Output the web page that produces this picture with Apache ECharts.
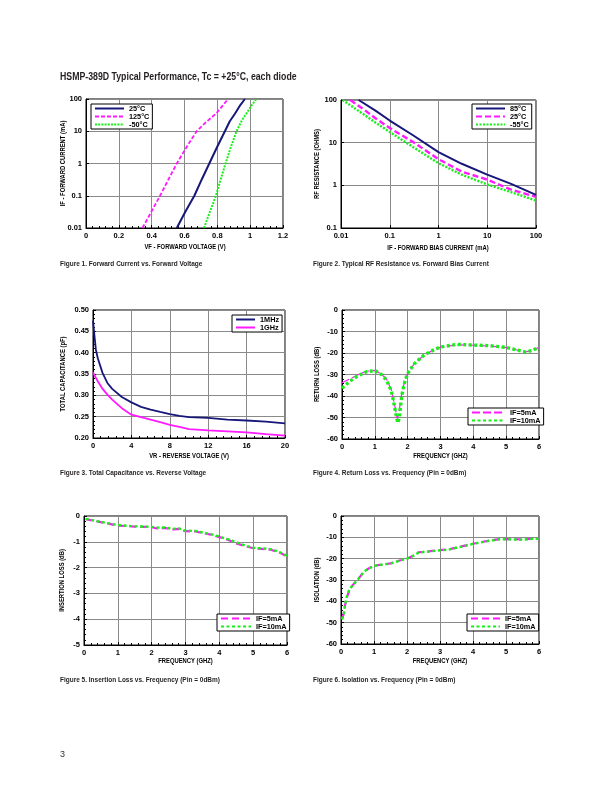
<!DOCTYPE html>
<html><head><meta charset="utf-8">
<script src="https://cdn.jsdelivr.net/npm/echarts@6/dist/echarts.min.js"></script>
<style>html,body{margin:0;padding:0;background:#fff}#c{width:612px;height:792px}</style>
</head><body><div id="c"></div>
<script>
// ---------- DATA ----------
// Figure 1: forward current (mA) vs forward voltage (V)
const f1XTicks = [0, 0.2, 0.4, 0.6, 0.8, 1, 1.2];
const f1YTicks = [0.01, 0.1, 1, 10, 100];
const f1_25C  = [[0.553,0.01],[0.605,0.032],[0.66,0.1],[0.705,0.32],[0.751,1],[0.798,3.2],[0.846,10],[0.875,20],[0.907,35],[0.94,65],[0.968,100]];
const f1_125C = [[0.344,0.01],[0.398,0.032],[0.451,0.1],[0.502,0.32],[0.553,1],[0.612,3.2],[0.674,10],[0.735,20],[0.792,35],[0.83,60],[0.866,100]];
const f1_m50C = [[0.719,0.01],[0.755,0.032],[0.791,0.1],[0.82,0.32],[0.85,1],[0.882,3.2],[0.917,10],[0.95,22],[0.984,40],[1.01,65],[1.038,100]];

// Figure 2: RF resistance (ohms) vs forward bias current (mA)
const f2XTicks = [0.01, 0.1, 1, 10, 100];
const f2YTicks = [0.1, 1, 10, 100];
const f2_85C  = [[0.023,100],[0.05,57],[0.1,33],[0.3,14.9],[1,6.0],[3,3.2],[10,1.78],[30,1.1],[100,0.6]];
const f2_25C  = [[0.0155,100],[0.03,59],[0.05,38],[0.1,22],[0.3,10.4],[1,4.1],[3,2.1],[10,1.36],[30,0.8],[100,0.54]];
const f2_m55C = [[0.0108,100],[0.03,45],[0.05,30],[0.1,17.8],[0.3,7.9],[1,3.3],[3,1.78],[10,1.05],[30,0.7],[100,0.44]];

// Figure 3: total capacitance (pF) vs reverse voltage (V)
const f3XTicks = [0, 4, 8, 12, 16, 20];
const f3YTicks = [0.20, 0.25, 0.30, 0.35, 0.40, 0.45, 0.50];
const f3_1MHz = [[0,0.475],[0.15,0.44],[0.3,0.407],[0.5,0.387],[1,0.352],[1.5,0.329],[2,0.315],[3,0.296],[4,0.2835],[5,0.273],[6,0.2665],[7,0.261],[8,0.256],[9,0.252],[10,0.249],[12,0.247],[14,0.243],[16,0.241],[18,0.2385],[20,0.2345]];
const f3_1GHz = [[0,0.354],[0.25,0.343],[0.5,0.333],[1,0.315],[1.5,0.3015],[2,0.29],[3,0.27],[4,0.2547],[5,0.249],[6,0.243],[7,0.237],[8,0.231],[9,0.226],[10,0.221],[12,0.218],[14,0.2157],[16,0.2134],[18,0.209],[20,0.2056]];

// Figure 4: return loss (dB) vs frequency (GHz)
const f4XTicks = [0, 1, 2, 3, 4, 5, 6];
const f4YTicks = [-60, -50, -40, -30, -20, -10, 0];
const f4_5mA  = [[0,-33.8],[0.25,-32],[0.5,-30],[0.75,-28.5],[1,-28.1],[1.2,-29.8],[1.35,-32],[1.5,-37],[1.55,-40.5],[1.6,-44],[1.65,-48],[1.68,-50.5],[1.72,-49],[1.76,-45],[1.8,-40.5],[1.86,-36],[1.92,-33],[2,-29.5],[2.2,-25],[2.5,-21],[2.8,-18.5],[3,-17.3],[3.5,-16.2],[4,-16.4],[4.5,-16.8],[5,-17.5],[5.3,-18.5],[5.6,-19.5],[5.8,-18.8],[6,-17.3]];
const f4_10mA = [[0,-36.4],[0.25,-33],[0.5,-30.5],[0.75,-28.7],[1,-28.2],[1.2,-30],[1.35,-32.5],[1.5,-37.5],[1.55,-41],[1.6,-45],[1.65,-49],[1.7,-52.5],[1.75,-50],[1.78,-45],[1.82,-40],[1.87,-36],[1.92,-33],[2,-29.5],[2.2,-25],[2.5,-21],[2.8,-18.5],[3,-17.2],[3.5,-16],[4,-16.3],[4.5,-16.6],[5,-17.4],[5.3,-18.5],[5.6,-19.6],[5.8,-18.8],[6,-17.3]];

// Figure 5: insertion loss (dB) vs frequency (GHz)
const f5XTicks = [0, 1, 2, 3, 4, 5, 6];
const f5YTicks = [-5, -4, -3, -2, -1, 0];
const f5_5mA  = [[0.05,-0.12],[0.5,-0.24],[1,-0.37],[1.5,-0.41],[2,-0.43],[2.2,-0.5],[2.4,-0.46],[2.6,-0.53],[2.8,-0.5],[3,-0.59],[3.3,-0.6],[3.5,-0.66],[3.75,-0.72],[4,-0.82],[4.25,-0.92],[4.5,-1.06],[4.75,-1.16],[5,-1.25],[5.5,-1.3],[5.75,-1.4],[6,-1.56]];
const f5_10mA = [[0.05,-0.11],[0.5,-0.23],[1,-0.35],[1.5,-0.4],[2,-0.42],[2.2,-0.45],[2.4,-0.44],[2.6,-0.5],[2.8,-0.48],[3,-0.57],[3.3,-0.58],[3.5,-0.64],[3.75,-0.7],[4,-0.8],[4.25,-0.9],[4.5,-1.02],[4.75,-1.14],[5,-1.23],[5.5,-1.28],[5.75,-1.38],[6,-1.54]];

// Figure 6: isolation (dB) vs frequency (GHz)
const f6XTicks = [0, 1, 2, 3, 4, 5, 6];
const f6YTicks = [-60, -50, -40, -30, -20, -10, 0];
const f6_5mA  = [[0.03,-48],[0.08,-46],[0.12,-42],[0.18,-38],[0.25,-35],[0.35,-32.5],[0.5,-30],[0.7,-26],[0.85,-24.5],[1,-23.3],[1.25,-22.8],[1.5,-22.2],[1.75,-21],[2,-20],[2.2,-18.5],[2.35,-17],[2.5,-16.8],[3,-16],[3.25,-15.7],[3.5,-14.8],[4,-13],[4.5,-11.5],[4.8,-10.8],[5,-10.8],[5.5,-11],[5.8,-10.6],[6,-10.5]];
const f6_10mA = [[0.03,-48.5],[0.08,-46.5],[0.12,-42],[0.18,-37.5],[0.25,-34.5],[0.35,-32.5],[0.5,-30],[0.7,-26],[0.85,-24.6],[1,-23.4],[1.25,-22.8],[1.5,-22.3],[1.75,-21],[2,-20],[2.2,-18.6],[2.35,-17.2],[2.5,-16.9],[3,-16.1],[3.25,-15.8],[3.5,-14.9],[4,-13.1],[4.5,-11.6],[4.8,-10.9],[5,-10.9],[5.5,-11.1],[5.8,-10.7],[6,-10.6]];

// Texts
const mainTitle = 'HSMP-389D Typical Performance, Tc = +25°C, each diode';
const captions = [
  'Figure 1. Forward Current vs. Forward Voltage',
  'Figure 2. Typical RF Resistance vs. Forward Bias Current',
  'Figure 3. Total Capacitance vs. Reverse Voltage',
  'Figure 4. Return Loss vs. Frequency (Pin = 0dBm)',
  'Figure 5. Insertion Loss vs. Frequency (Pin = 0dBm)',
  'Figure 6. Isolation vs. Frequency (Pin = 0dBm)'
];
const xNames = ['VF - FORWARD VOLTAGE (V)','IF - FORWARD BIAS CURRENT (mA)','VR - REVERSE VOLTAGE (V)','FREQUENCY (GHZ)','FREQUENCY (GHZ)','FREQUENCY (GHZ)'];
const yNames = ['IF - FORWARD CURRENT (mA)','RF RESISTANCE (OHMS)','TOTAL CAPACITANCE (pF)','RETURN LOSS (dB)','INSERTION LOSS (dB)','ISOLATION (dB)'];
const legendLabels = {
  f1a:'25°C', f1b:'125°C', f1c:'-50°C',
  f2a:'85°C', f2b:'25°C', f2c:'-55°C',
  f3a:'1MHz', f3b:'1GHz',
  f4a:'IF=5mA', f4b:'IF=10mA',
  f5a:'IF=5mA', f5b:'IF=10mA',
  f6a:'IF=5mA', f6b:'IF=10mA'
};
const pageNumber = '3';

// ---------- STYLE / LAYOUT ----------
const SANS = '"Liberation Sans",Arial,sans-serif';
const NAVY = '#17177a', MAG = '#ff1aff', GRN = '#19ee19', GRID = '#8a8a8a', INK = '#231f20';

const grids = [
  {left:86,  top:99,  width:197, height:129},
  {left:341, top:100, width:195, height:128},
  {left:93,  top:310, width:192, height:128},
  {left:342, top:310, width:197, height:129},
  {left:84,  top:516, width:203, height:129},
  {left:341, top:516, width:198, height:128}
];
// centres of the axis-title texts
const xNamePos = [[185,246.7],[438,247.7],[189,456],[440.5,456],[185.5,660.7],[440,660.7]];
const yNamePos = [[63.3,163.5],[316.7,164],[63.3,374],[316.7,374.5],[62.3,580.5],[316.7,580]];
const capPos = [[60,264],[313,264],[60,473.5],[313,473.5],[60,680],[313,680]];

const tickFont = {fontFamily:SANS, fontWeight:'bold', fontSize:7.5, color:'#000'};

function axis(gi, ticks, type, fmt) {
  const a = {
    gridIndex: gi, type: type,
    min: ticks[0], max: ticks[ticks.length-1],
    axisLine: {show:true, onZero:false, lineStyle:{color:'#000', width:1}},
    axisTick: {show:true, inside:true, length:3, lineStyle:{color:'#000', width:1}},
    axisLabel: Object.assign({margin:4, showMinLabel:true, showMaxLabel:true}, tickFont),
    splitLine: {show:true, lineStyle:{color:GRID, width:1}}
  };
  if (type === 'log') {
    a.logBase = 10;
    a.axisLabel.formatter = v => String(+v.toPrecision(6));
  } else {
    a.interval = ticks[1] - ticks[0];
    a.minorTick = {show:true, splitNumber:5, length:2, lineStyle:{color:'#000', width:1}};
    if (fmt) a.axisLabel.formatter = fmt;
  }
  return a;
}

const xAxes = [
  axis(0, f1XTicks, 'value'),
  axis(1, f2XTicks, 'log'),
  axis(2, f3XTicks, 'value'),
  axis(3, f4XTicks, 'value'),
  axis(4, f5XTicks, 'value'),
  axis(5, f6XTicks, 'value')
];
const yAxes = [
  axis(0, f1YTicks, 'log'),
  axis(1, f2YTicks, 'log'),
  axis(2, f3YTicks, 'value', v => v.toFixed(2)),
  axis(3, f4YTicks, 'value'),
  axis(4, f5YTicks, 'value'),
  axis(5, f6YTicks, 'value')
];

function line(name, gi, data, color, width, type, z) {
  return {
    name: name, type: 'line', xAxisIndex: gi, yAxisIndex: gi, data: data,
    symbol: 'none', smooth: false, z: z || 2, animation: false,
    lineStyle: {color: color, width: width, type: type},
    itemStyle: {color: color}
  };
}

const series = [
  line('f1a', 0, f1_25C,  NAVY, 2,   'solid', 3),
  line('f1b', 0, f1_125C, MAG,  1.8, [4,2]),
  line('f1c', 0, f1_m50C, GRN,  2,   [2,1.2]),
  line('f2a', 1, f2_85C,  NAVY, 2,   'solid', 3),
  line('f2b', 1, f2_25C,  MAG,  2.4, [6,3]),
  line('f2c', 1, f2_m55C, GRN,  2.4, [2,1.5]),
  line('f3a', 2, f3_1MHz, NAVY, 1.8, 'solid'),
  line('f3b', 2, f3_1GHz, MAG,  1.8, 'solid'),
  line('f4a', 3, f4_5mA,  MAG,  1.2, [8,3]),
  line('f4b', 3, f4_10mA, GRN,  3.4, [3,2.5], 3),
  line('f5a', 4, f5_5mA,  MAG,  2.2, [7,4]),
  line('f5b', 4, f5_10mA, GRN,  2.4, [3,2.5], 3),
  line('f6a', 5, f6_5mA,  MAG,  2.2, [7,4]),
  line('f6b', 5, f6_10mA, GRN,  2.4, [3,2.5], 3)
];

function legend(names, left, top, iw) {
  return {
    data: names, left: left, top: top, orient: 'vertical',
    formatter: n => legendLabels[n],
    itemWidth: iw, itemHeight: 7, itemGap: 1,
    padding: [1, 3, 1, 3],
    borderColor: '#000', borderWidth: 1, backgroundColor: '#fff',
    selectedMode: false,
    itemStyle: {color:'rgba(0,0,0,0)', borderWidth:0, opacity:0},
    textStyle: {fontFamily:SANS, fontWeight:'bold', fontSize:7.3, color:'#000'}
  };
}
const legends = [
  legend(['f1a','f1b','f1c'], 91, 104, 29),
  legend(['f2a','f2b','f2c'], 472, 104, 29),
  legend(['f3a','f3b'], 232, 315, 19),
  legend(['f4a','f4b'], 468, 408, 33),
  legend(['f5a','f5b'], 217, 614, 30),
  legend(['f6a','f6b'], 467, 614, 29)
];

function txt(text, x, y, size, sx, align, rot, weight, color) {
  return {
    type: 'text', x: x, y: y, rotation: rot || 0, scaleX: sx, scaleY: 1, silent: true, z: 10,
    style: {text: text, fill: color || INK, font: (weight || 'bold') + ' ' + size + 'px ' + SANS,
            align: align, verticalAlign: 'middle'}
  };
}
const graphics = [
  txt(mainTitle, 60, 77, 10, 0.875, 'left'),
  txt(pageNumber, 60, 755, 9, 1, 'left', 0, 'normal', '#333')
]
.concat(captions.map((c, i) => txt(c, capPos[i][0], capPos[i][1], 7, 0.925, 'left')))
.concat(xNames.map((n, i) => txt(n, xNamePos[i][0], xNamePos[i][1], 7.5, 0.78, 'center', 0, 'bold', '#000')))
.concat(yNames.map((n, i) => txt(n, yNamePos[i][0], yNamePos[i][1], 7.5, 0.78, 'center', Math.PI/2, 'bold', '#000')));

const option = {
  animation: false,
  backgroundColor: '#fff',
  legend: legends,
  grid: grids.map(g => Object.assign({show:true, borderColor:'#000', borderWidth:1, backgroundColor:'#fff', containLabel:false, outerBoundsMode:'none'}, g)),
  xAxis: xAxes,
  yAxis: yAxes,
  series: series,
  graphic: graphics
};

const chart = echarts.init(document.getElementById('c'), null, {renderer:'canvas'});
chart.setOption(option);
</script>
</body></html>
